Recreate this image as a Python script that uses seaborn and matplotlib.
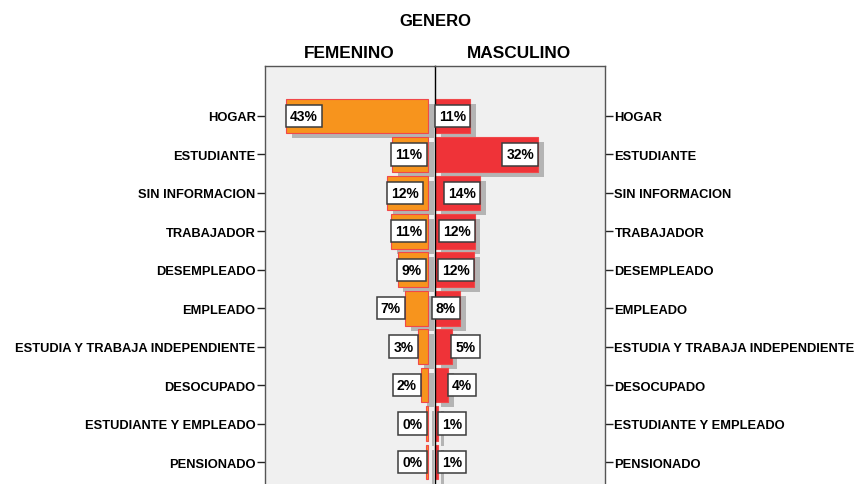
import matplotlib

matplotlib.use("Agg")
import matplotlib.patheffects as pe
import matplotlib.pyplot as plt
import pandas as pd
import seaborn as sns

ocupaciones = [
    "HOGAR",
    "ESTUDIANTE",
    "SIN INFORMACION",
    "TRABAJADOR",
    "DESEMPLEADO",
    "EMPLEADO",
    "ESTUDIA Y TRABAJA INDEPENDIENTE",
    "DESOCUPADO",
    "ESTUDIANTE Y EMPLEADO",
    "PENSIONADO",
]
femenino = [43.1, 11.0, 12.4, 11.2, 9.2, 7.0, 3.1, 2.1, 0.4, 0.4]
masculino = [10.8, 31.8, 13.8, 12.2, 12.0, 7.7, 5.1, 4.1, 1.0, 0.9]

# labels go inside the bar when the box fits, otherwise just outside
MIN_INSIDE = 7.5


def draw_side(ax, values, color, right_side):
    df = pd.DataFrame({"ocupacion": ocupaciones, "pct": values})
    sns.barplot(
        data=df,
        x="pct",
        y="ocupacion",
        orient="h",
        color=color,
        saturation=1,
        edgecolor="#f0484a",
        linewidth=0.8,
        width=0.9,
        ax=ax,
    )
    shadow = [pe.SimplePatchShadow(offset=(4.3, -3.6), shadow_rgbFace="#b4b4b4", alpha=1), pe.Normal()]
    for bar in ax.patches:
        bar.set_path_effects(shadow)

    for i, v in enumerate(values):
        inside = v >= MIN_INSIDE
        if right_side:
            ha = "right" if inside else "left"
        else:
            ha = "left" if inside else "right"
        dx = 2.8 if ha == "left" else -2.8
        ax.annotate(
            f"{v:.0f}%",
            xy=(v, i),
            xytext=(dx, 0),
            textcoords="offset points",
            ha=ha,
            va="center",
            fontsize=10,
            fontweight="bold",
            color="black",
            zorder=5,
            bbox=dict(boxstyle="square,pad=0.3", fc="white", ec="#3c3c3c", lw=1.1),
        )

    ax.set_facecolor("#f0f0f0")
    ax.set_ylim(len(ocupaciones) - 1 + 1.3, -1.3)
    ax.set_xlabel("")
    ax.set_ylabel("")
    ax.set_xticks([])
    for s in ax.spines.values():
        s.set_color("#555555")
        s.set_linewidth(1.0)
    ax.spines["bottom"].set_visible(False)
    ax.tick_params(axis="y", length=6, width=1, color="#222222", pad=0.8, labelsize=9.3)


def main() -> None:
    sns.set_theme(style="white")
    plt.rcParams["font.family"] = ["Liberation Sans", "DejaVu Sans"]
    plt.rcParams["text.color"] = "black"
    plt.rcParams["ytick.labelcolor"] = "black"

    fig = plt.figure(figsize=(8.59, 4.85), dpi=100)
    ax_f = fig.add_axes([0.3085, -0.0577, 0.1979, 0.9196])
    ax_m = fig.add_axes([0.5064, -0.0577, 0.1979, 0.9196])

    draw_side(ax_f, femenino, "#f7941d", right_side=False)
    ax_f.set_xlim(49.5, -2.2)
    ax_f.spines["right"].set_visible(False)
    ax_f.yaxis.tick_left()

    draw_side(ax_m, masculino, "#ef3338", right_side=True)
    ax_m.set_xlim(0, 52.5)
    ax_m.spines["left"].set_color("black")
    ax_m.spines["left"].set_linewidth(1.0)
    ax_m.yaxis.tick_right()
    ax_m.tick_params(axis="y", labelleft=False, labelright=True, left=False, right=True)

    for ax in (ax_f, ax_m):
        for t in ax.yaxis.get_major_ticks():
            t.label1.set_fontweight("bold")
            t.label2.set_fontweight("bold")
            t.label1.set_color("black")
            t.label2.set_color("black")

    fig.text(0.5064, 1 - 21 / 485, "GENERO", ha="center", va="center", fontsize=12, fontweight="bold")
    fig.text(349.5 / 859, 1 - 53 / 485, "FEMENINO", ha="center", va="center", fontsize=12.4, fontweight="bold")
    fig.text(518.5 / 859, 1 - 53 / 485, "MASCULINO", ha="center", va="center", fontsize=12.4, fontweight="bold")

    fig.savefig("out.png", dpi=100)
    plt.close(fig)


if __name__ == "__main__":
    main()
